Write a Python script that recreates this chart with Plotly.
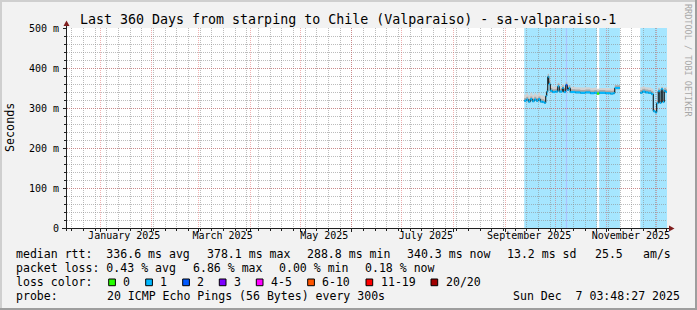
import plotly.graph_objects as go
import pandas as pd

# ---------------- data ----------------
sample_times = [
    "2025-09-12 12:00", "2025-09-13 17:00", "2025-09-14 22:00", "2025-09-16 03:00",
    "2025-09-17 08:00", "2025-09-18 12:00", "2025-09-19 17:00", "2025-09-20 22:00",
    "2025-09-22 03:00", "2025-09-23 08:00", "2025-09-24 12:00", "2025-09-25 10:00",
    "2025-09-26 00:00", "2025-09-26 15:00", "2025-09-27 05:00", "2025-09-28 03:00",
    "2025-09-29 08:00", "2025-10-01 03:00", "2025-10-02 15:00", "2025-10-03 12:00",
    "2025-10-05 08:00", "2025-10-06 05:00", "2025-10-07 10:00", "2025-10-08 08:00",
    "2025-10-09 05:00", "2025-10-10 03:00", "2025-10-13 03:00", "2025-10-16 03:00",
    "2025-10-19 03:00", "2025-10-22 03:00", "2025-10-24 12:00", "2025-10-26 03:00",
    "2025-10-27 12:00", "2025-10-31 03:00", "2025-11-03 03:00", "2025-11-04 22:00",
    "2025-11-05 20:00", "2025-11-08 22:00", "2025-11-21 03:00", "2025-11-22 08:00",
    "2025-11-24 03:00", "2025-11-25 22:00", "2025-11-27 17:00", "2025-11-28 22:00",
    "2025-11-30 03:00", "2025-12-01 00:00", "2025-12-01 22:00", "2025-12-02 20:00",
    "2025-12-03 17:00", "2025-12-04 15:00", "2025-12-05 12:00", "2025-12-06 10:00",
]
median_ms = [
    318, 321, 316, 322, 317, 321, 318, 322, 316, 315,
    313, 330, 341, 378, 360, 343, 340, 341, 354, 341,
    350, 340, 357, 345, 350, 340, 339, 338, 339, 337,
    338, 336, 338, 337, 336, 337, 350, None, 338, 341,
    339, 338, 335, 292, 289, 312, 342, 313, 347, 315,
    343, 340,
]
smoke_hi_ms = [
    334, 337, 332, 338, 333, 337, 334, 338, 332, 331,
    329, 342, 354, 386, 372, 356, 353, 354, 364, 354,
    360, 353, 366, 357, 360, 353, 352, 351, 352, 350,
    351, 348, 350, 350, 349, 350, 357, None, 352, 354,
    352, 351, 349, 300, 298, 320, 352, 322, 354, 324,
    352, 352,
]
smoke_mid_ms = [
    325, 328, 323, 329, 324, 328, 325, 329, 323, 322,
    320, 337, 348, 385, 367, 350, 347, 348, 361, 348,
    357, 347, 364, 352, 357, 347, 346, 345, 346, 344,
    345, 343, 345, 344, 343, 344, 357, None, 345, 348,
    346, 345, 342, 296, 293, 316, 349, 317, 352, 319,
    350, 347,
]
smoke_lo_ms = [
    316, 319, 314, 320, 315, 319, 316, 320, 314, 313,
    311, 328, 339, 375, 357, 341, 338, 339, 351, 339,
    347, 338, 354, 343, 347, 338, 337, 336, 337, 335,
    336, 334, 336, 335, 334, 335, 347, None, 336, 339,
    337, 336, 333, 290, 287, 310, 339, 311, 344, 313,
    341, 338,
]
loss_class = [
    1, 1, 1, 1, 1, 1, 1, 1, 1, 1,
    1, 1, 1, 1, 1, 1, 1, 1, 1, 1,
    1, 1, 2, 1, 1, 1, 1, 1, 1, 1,
    1, 0, 1, 1, 1, 1, 1, None, 1, 1,
    1, 1, 1, 1, 1, 1, 1, 1, 1, 1,
    1, 1,
]
loss_labels = ["0", "1", "2", "3", "4-5", "6-10", "11-19", "20/20"]
loss_colors = ["#26ff00", "#00b8ff", "#0059ff", "#7e00ff",
               "#ff00ff", "#ff5500", "#ff0000", "#a00000"]

y_tick_values = [0, 100, 200, 300, 400, 500]
y_tick_labels = ["0", "100 m", "200 m", "300 m", "400 m", "500 m"]
x_label_dates = ["2025-01-15 12:00", "2025-03-15 12:00", "2025-05-15 12:00",
                 "2025-07-15 12:00", "2025-09-15 12:00", "2025-11-15 12:00"]
x_label_text = ["January 2025", "March 2025", "May 2025",
                "July 2025", "September 2025", "November 2025"]

title_text = "Last 360 Days from starping to Chile (Valparaiso) - sa-valparaiso-1"
row_rtt = [("median rtt:\u00a0 336.6 ms avg", 16), ("378.1 ms max", 207.3),
           ("288.8 ms min", 306.7), ("340.3 ms now", 407.3), ("13.2 ms sd", 507),
           ("25.5", 595), ("am/s", 642.7)]
row_loss = [("packet loss: 0.43 % avg", 16), ("6.86 % max", 193),
            ("0.00 % min", 279.3), ("0.18 % now", 365)]
row_probe = [("probe:", 16), ("20 ICMP Echo Pings (56 Bytes) every 300s", 107.3),
             ("Sun Dec\u00a0 7 03:48:27 2025", 513.3)]
loss_legend_x = [108.7, 145.7, 182.7, 219.3, 256.3, 307.7, 366, 431]

END = pd.Timestamp("2025-12-07 03:48:27")
START = END - pd.Timedelta(days=360)

# ---------------- styling ----------------
FONT = "DejaVu Sans Mono"
LEG = 11.55
BACK = "#f2f2f2"
GRID = "rgba(143,143,143,0.6)"
MGRID = "rgba(222,79,79,0.45)"
AXIS = "#1f1f1f"
ARROW = "#801f1f"
SMOKE_LIGHT = "#d2d2d2"
SMOKE_DARK = "#a8a8a8"

W, H = 697, 310
L, R, T, B = 67, 667, 28, 228


def px(x):
    return (x - L) / (R - L)


def py(y):
    return (B - y) / (B - T)


def rgba(hexcol, a):
    h = hexcol.lstrip("#")
    return "rgba(%d,%d,%d,%.2f)" % (int(h[0:2], 16), int(h[2:4], 16), int(h[4:6], 16), a)


times = list(pd.to_datetime(sample_times))
n = len(times)
bounds = times[1:] + [END]

segments, cur = [], []
for i in range(n):
    if median_ms[i] is None:
        if cur:
            segments.append(cur)
        cur = []
    else:
        cur.append(i)
if cur:
    segments.append(cur)

fig = go.Figure()

for seg in segments:
    xs = [times[i] for i in seg] + [bounds[seg[-1]]]

    def ys(arr):
        return [arr[i] for i in seg] + [arr[seg[-1]]]

    common = dict(x=xs, mode="lines", line_shape="hv", hoverinfo="skip", showlegend=False)
    fig.add_trace(go.Scatter(y=ys(smoke_lo_ms), line=dict(width=0), **common))
    fig.add_trace(go.Scatter(y=ys(smoke_hi_ms), line=dict(width=0), fill="tonexty",
                             fillcolor=SMOKE_LIGHT, **common))
    fig.add_trace(go.Scatter(y=ys(smoke_lo_ms), line=dict(width=0), **common))
    fig.add_trace(go.Scatter(y=ys(smoke_mid_ms), line=dict(width=0), fill="tonexty",
                             fillcolor=SMOKE_DARK, **common))
    fig.add_trace(go.Scatter(y=ys(median_ms), line=dict(width=1, color="#000000"), **common))

# loss-coloured median pieces
for k, col in enumerate(loss_colors):
    xs, ys_ = [], []
    for i in range(n):
        if median_ms[i] is not None and loss_class[i] == k:
            xs += [times[i], bounds[i], None]
            ys_ += [median_ms[i], median_ms[i], None]
    if xs:
        fig.add_trace(go.Scatter(x=xs, y=ys_, mode="lines", line=dict(width=2.2, color=col),
                                 hoverinfo="skip", showlegend=False))

# loss background bars
shapes = []
i = 0
while i < n:
    if median_ms[i] is not None and loss_class[i] and loss_class[i] > 0:
        k = loss_class[i]
        j = i
        while j + 1 < n and median_ms[j + 1] is not None and loss_class[j + 1] == k:
            j += 1
        shapes.append(dict(type="rect", xref="x", yref="paper", x0=times[i], x1=bounds[j],
                           y0=0, y1=1, fillcolor=rgba(loss_colors[k], 0.35),
                           line=dict(width=0), layer="below"))
        i = j + 1
    else:
        i += 1

# dummy trace for label axis
fig.add_trace(go.Scatter(x=[START], y=[None], xaxis="x2", mode="markers",
                         hoverinfo="skip", showlegend=False))

# frame / axes / arrows
shapes += [
    dict(type="rect", xref="paper", yref="paper", x0=px(0), x1=px(W), y0=py(0), y1=py(2),
         fillcolor="#cfcfcf", line=dict(width=0), layer="above"),
    dict(type="rect", xref="paper", yref="paper", x0=px(0), x1=px(2), y0=py(0), y1=py(H),
         fillcolor="#cfcfcf", line=dict(width=0), layer="above"),
    dict(type="rect", xref="paper", yref="paper", x0=px(0), x1=px(W), y0=py(H - 2), y1=py(H),
         fillcolor="#9e9e9e", line=dict(width=0), layer="above"),
    dict(type="rect", xref="paper", yref="paper", x0=px(W - 2), x1=px(W), y0=py(0), y1=py(H),
         fillcolor="#9e9e9e", line=dict(width=0), layer="above"),
    dict(type="line", xref="paper", yref="paper", x0=px(66.5), x1=px(66.5), y0=py(231), y1=py(24),
         line=dict(color=AXIS, width=1), layer="above"),
    dict(type="line", xref="paper", yref="paper", x0=px(62), x1=px(670), y0=py(228.5), y1=py(228.5),
         line=dict(color=AXIS, width=1), layer="above"),
    dict(type="path", xref="paper", yref="paper",
         path="M %f,%f L %f,%f L %f,%f Z" % (px(63.5), py(26), px(69.5), py(26), px(66.5), py(20.5)),
         fillcolor=ARROW, line=dict(width=0), layer="above"),
    dict(type="path", xref="paper", yref="paper",
         path="M %f,%f L %f,%f L %f,%f Z" % (px(669), py(225.5), px(669), py(231.5), px(674.5), py(228.5)),
         fillcolor=ARROW, line=dict(width=0), layer="above"),
]

annotations = []


def text(t, x, y, size=LEG, anchor="left", color="#000000", angle=0):
    annotations.append(dict(text=t, x=px(x), y=py(y), xref="paper", yref="paper",
                            xanchor=anchor, yanchor="middle", showarrow=False,
                            textangle=angle, borderpad=0,
                            font=dict(family=FONT, size=size, color=color)))


text(title_text, 347.5, 19, size=13.3, anchor="center")
text("Seconds", 10, 128, size=11.7, anchor="center", angle=-90)
text("RRDTOOL / TOBI OETIKER", 688, 60, size=8.5, anchor="center", color="#a8a8a8", angle=90)

for t, x in row_rtt:
    text(t, x - 1, 254.3)
for t, x in row_loss:
    text(t, x - 1, 268)
text("loss color:", 15, 282.3)
for k, x in enumerate(loss_legend_x):
    shapes.append(dict(type="rect", xref="paper", yref="paper", x0=px(x), x1=px(x + 6.7),
                       y0=py(285.7), y1=py(279), fillcolor=loss_colors[k],
                       line=dict(color="#000000", width=1), layer="above"))
    text(loss_labels[k], x + 14.6 - 1, 282.3)
for t, x in row_probe:
    text(t, x - 1, 296)

month_starts = list(pd.date_range("2025-01-01", "2025-12-01", freq="MS"))

fig.update_layout(
    width=W, height=H, autosize=False,
    margin=dict(l=L, r=W - R, t=T, b=H - B, pad=0),
    paper_bgcolor=BACK, plot_bgcolor="#ffffff",
    font=dict(family=FONT, size=10, color="#000000"),
    showlegend=False,
    shapes=shapes, annotations=annotations,
    xaxis=dict(type="date", range=[START, END], tickmode="array", tickvals=month_starts,
               showticklabels=False, showgrid=True, gridcolor=MGRID, griddash="1px,1px",
               gridwidth=1, ticks="outside", ticklen=3, tickcolor=AXIS, zeroline=False,
               showline=False, fixedrange=True,
               minor=dict(tickmode="linear", tick0="2024-12-15", dtick=7 * 86400000,
                          showgrid=True, gridcolor=GRID, griddash="1px,1px", gridwidth=1,
                          ticks="outside", ticklen=2, tickcolor=AXIS)),
    xaxis2=dict(type="date", overlaying="x", anchor="y", side="bottom", range=[START, END],
                tickmode="array", tickvals=x_label_dates, ticktext=x_label_text,
                showgrid=False, ticks="", zeroline=False, showline=False,
                tickfont=dict(family=FONT, size=10, color="#000000"), fixedrange=True),
    yaxis=dict(range=[0, 500], tickmode="array", tickvals=y_tick_values, ticktext=y_tick_labels,
               showgrid=True, gridcolor=MGRID, griddash="1px,1px", gridwidth=1,
               ticks="outside", ticklen=3, tickcolor=AXIS, zeroline=False, showline=False,
               ticklabelstandoff=2,
               tickfont=dict(family=FONT, size=10, color="#000000"), fixedrange=True,
               minor=dict(tickmode="linear", tick0=0, dtick=20, showgrid=True, gridcolor=GRID,
                          griddash="1px,1px", gridwidth=1, ticks="outside", ticklen=2,
                          tickcolor=AXIS)),
)

fig.write_html("out.html")
